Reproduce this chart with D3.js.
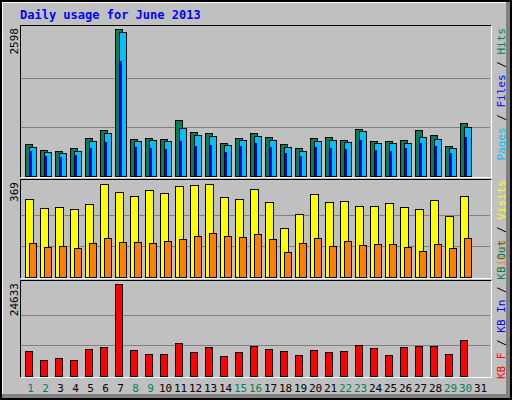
<!DOCTYPE html>
<html><head><meta charset="utf-8">
<script src="https://cdn.jsdelivr.net/npm/d3@7"></script>
<style>body{margin:0;background:#fff}text{font-family:"DejaVu Sans Mono",monospace}</style>
</head><body><div id="chart"></div>
<script>
var days = d3.range(1, 32);
var weekend = [1, 2, 8, 9, 15, 16, 22, 23, 29, 30];
var hits = [565,459,442,495,671,813,2598,654,671,654,989,777,760,583,671,760,689,565,495,671,689,636,830,618,618,636,813,724,530,936];
var pages = [512,424,406,442,618,760,2544,618,636,618,848,724,707,548,636,707,636,512,442,618,636,601,795,583,583,583,689,654,495,866];
var files = [442,353,336,371,495,601,2032,512,495,477,618,530,548,424,530,583,512,406,353,512,495,477,636,459,442,495,583,530,406,689];
var visits = [308,273,277,269,289,369,336,320,344,332,360,364,369,316,308,348,297,193,249,328,297,301,281,281,293,277,269,304,241,320];
var sites = [134,118,122,114,134,154,138,138,134,142,150,162,173,162,158,170,150,98,134,154,122,142,126,130,130,118,102,130,114,154];
var kbytes = [6630,4210,4750,4210,7170,7710,24633,6900,5830,5830,8780,6370,7710,5290,6370,7980,7170,6630,5560,6900,6370,6630,8250,7440,5560,7710,7980,7980,5830,9590];

var svg = d3.select("#chart").append("svg").attr("width", 512).attr("height", 400);
svg.append("rect").attr("width", 512).attr("height", 400).attr("fill", "#000");
svg.append("rect").attr("x", 2).attr("y", 2).attr("width", 508).attr("height", 396).attr("fill", "#808080");
svg.append("rect").attr("x", 2).attr("y", 2).attr("width", 504).attr("height", 392).attr("fill", "#fff");
svg.append("rect").attr("x", 3).attr("y", 3).attr("width", 503).attr("height", 391).attr("fill", "#C0C0C0");

svg.append("text").attr("x", 20).attr("y", 19).attr("fill", "#0000FF")
    .attr("font-size", 12).attr("font-weight", "bold").text("Daily usage for June 2013");

var x = d3.scaleBand().domain(days).range([23, 488]);

var panels = [
  {top: 25, bottom: 177, max: 2598, y0: 176, y1: 29},
  {top: 179, bottom: 278, max: 369, y0: 277, y1: 184},
  {top: 280, bottom: 377, max: 24633, y0: 376, y1: 284}
];
panels.forEach(function(p) {
  p.y = d3.scaleLinear().domain([0, p.max]).range([p.y0, p.y1]);
  [p.max / 3, p.max * 2 / 3].forEach(function(v) {
    svg.append("line").attr("x1", 21).attr("x2", 490).attr("y1", Math.round(p.y(v)) + 0.5)
      .attr("y2", Math.round(p.y(v)) + 0.5).attr("stroke", "#808080");
  });
  svg.append("path").attr("d", "M20.5," + (p.bottom + 0.5) + "V" + (p.top + 0.5) + "H491.5")
    .attr("stroke", "#000").attr("fill", "none");
  svg.append("path").attr("d", "M20.5," + (p.bottom + 0.5) + "H491.5V" + (p.top + 0.5))
    .attr("stroke", "#fff").attr("fill", "none");
  svg.append("text").attr("transform", "translate(18," + (p.top + 3) + ") rotate(-90)")
    .attr("text-anchor", "end").attr("font-size", 11).text(p.max);
});

function bars(data, panel, dx, w, color) {
  svg.append("g").selectAll("rect").data(data).join("rect")
    .attr("x", function(d, i) { return x(days[i]) + dx + 0.5; })
    .attr("y", function(d) { return Math.round(panel.y(d)) + 0.5; })
    .attr("width", w)
    .attr("height", function(d) { return panel.y0 - Math.round(panel.y(d)); })
    .attr("fill", color).attr("stroke", "#000");
}
bars(hits, panels[0], 2, 7, "#00805C");
bars(pages, panels[0], 6, 7, "#00C0FF");
svg.append("g").selectAll("rect").data(files).join("rect")
  .attr("x", function(d, i) { return x(days[i]) + 7; })
  .attr("y", function(d) { return Math.round(panels[0].y(d)); })
  .attr("width", 2)
  .attr("height", function(d) { return panels[0].y0 - Math.round(panels[0].y(d)); })
  .attr("fill", "#0000FF");
bars(visits, panels[1], 2, 8, "#FFFF00");
bars(sites, panels[1], 6, 7, "#FF8000");
bars(kbytes, panels[2], 2, 7, "#FF0000");

svg.append("g").selectAll("text").data(days).join("text")
  .attr("x", function(d) { return x(d) + x.bandwidth() / 2; })
  .attr("y", 392).attr("text-anchor", "middle").attr("font-size", 11)
  .attr("fill", function(d) { return weekend.indexOf(d) >= 0 ? "#00805C" : "#000"; })
  .text(function(d) { return d; });

function legend(parts, yPos, anchor) {
  var t = svg.append("text").attr("transform", "translate(505," + yPos + ") rotate(-90)")
    .attr("text-anchor", anchor).attr("font-size", 11);
  parts.forEach(function(p) { t.append("tspan").attr("fill", p[1]).text(p[0]); });
}
legend([["Pages", "#00C0FF"], [" / ", "#000"], ["Files", "#0000FF"], [" / ", "#000"], ["Hits", "#00805C"]], 28, "end");
legend([["Sites", "#FF8000"], [" / ", "#000"], ["Visits", "#FFFF00"]], 180, "end");
legend([["KB F", "#FF0000"], [" / ", "#000"], ["KB In", "#0000FF"], [" / ", "#000"], ["KB Out", "#00805C"]], 379, "start");
</script></body></html>
